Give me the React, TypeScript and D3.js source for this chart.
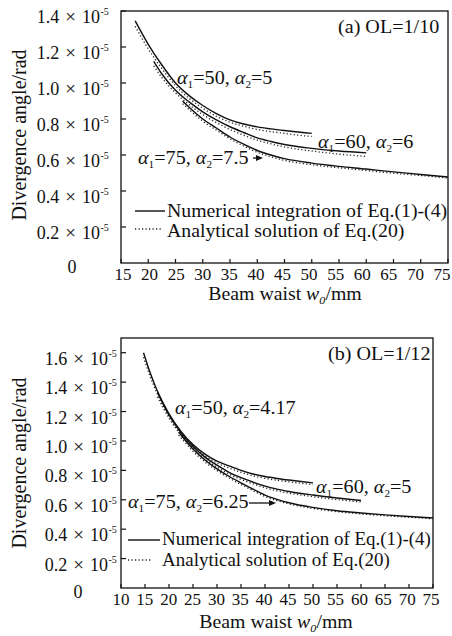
import React from 'react';
import * as d3 from 'd3';

// ---------- Tick values ----------
const xTicksA = [15, 20, 25, 30, 35, 40, 45, 50, 55, 60, 65, 70, 75];
const yTicksA = [0.2, 0.4, 0.6, 0.8, 1.0, 1.2, 1.4];
const xTicksB = [10, 15, 20, 25, 30, 35, 40, 45, 50, 55, 60, 65, 70, 75];
const yTicksB = [0.2, 0.4, 0.6, 0.8, 1.0, 1.2, 1.4, 1.6];

// ---------- Panel (a) OL=1/10 ----------
const wA50 = [17.6, 20, 22.5, 25, 27.5, 30, 32.5, 35, 37.5, 40, 42.5, 45, 47.5, 50];
const numA50 = [1.345, 1.215, 1.1, 1.0, 0.93, 0.875, 0.83, 0.795, 0.772, 0.756, 0.745, 0.736, 0.728, 0.72];
const anaA50 = [1.315, 1.19, 1.08, 0.985, 0.915, 0.86, 0.815, 0.782, 0.76, 0.742, 0.73, 0.72, 0.71, 0.703];

const wA60 = [21, 22.5, 25, 27.5, 30, 32.5, 35, 37.5, 40, 42.5, 45, 50, 55, 60];
const numA60 = [1.12, 1.05, 0.96, 0.895, 0.84, 0.795, 0.757, 0.725, 0.695, 0.675, 0.658, 0.637, 0.622, 0.612];
const anaA60 = [1.095, 1.03, 0.945, 0.88, 0.825, 0.78, 0.742, 0.71, 0.682, 0.662, 0.645, 0.622, 0.605, 0.592];

const wA75 = [26.3, 27.5, 30, 32.5, 35, 37.5, 40, 42.5, 45, 50, 55, 60, 65, 70, 75];
const numA75 = [0.9, 0.865, 0.8, 0.75, 0.7, 0.66, 0.625, 0.6, 0.58, 0.555, 0.537, 0.522, 0.506, 0.492, 0.478];
const anaA75 = [0.885, 0.852, 0.788, 0.738, 0.69, 0.65, 0.615, 0.59, 0.57, 0.546, 0.529, 0.514, 0.499, 0.486, 0.472];

// ---------- Panel (b) OL=1/12 ----------
const wB50 = [14.7, 16, 17.5, 20, 22.5, 25, 27.5, 30, 32.5, 35, 37.5, 40, 42.5, 45, 47.5, 50];
const numB50 = [1.6, 1.47, 1.345, 1.185, 1.065, 0.975, 0.91, 0.862, 0.83, 0.8, 0.775, 0.758, 0.745, 0.734, 0.724, 0.715];
const anaB50 = [1.57, 1.445, 1.325, 1.17, 1.05, 0.962, 0.898, 0.85, 0.816, 0.787, 0.763, 0.746, 0.733, 0.722, 0.712, 0.703];

const wB60 = [17.6, 20, 22.5, 25, 27.5, 30, 32.5, 35, 37.5, 40, 42.5, 45, 50, 55, 60];
const numB60 = [1.33, 1.175, 1.055, 0.962, 0.89, 0.835, 0.787, 0.75, 0.72, 0.693, 0.672, 0.656, 0.632, 0.612, 0.595];
const anaB60 = [1.3, 1.155, 1.04, 0.948, 0.877, 0.822, 0.775, 0.738, 0.708, 0.682, 0.661, 0.645, 0.621, 0.601, 0.585];

const wB75 = [22, 22.5, 25, 27.5, 30, 32.5, 35, 37.5, 40, 42.5, 45, 50, 55, 60, 65, 70, 75];
const numB75 = [1.06, 1.04, 0.945, 0.87, 0.81, 0.76, 0.715, 0.672, 0.632, 0.603, 0.58, 0.548, 0.525, 0.51, 0.497, 0.486, 0.476];
const anaB75 = [1.04, 1.022, 0.93, 0.857, 0.798, 0.748, 0.704, 0.662, 0.622, 0.594, 0.572, 0.541, 0.519, 0.504, 0.491, 0.481, 0.471];

const FONT = '"Liberation Serif", "Times New Roman", serif';
const INK = '#111';

type Frame = { l: number; t: number; r: number; b: number };

function SText(props: {
  x: number;
  y: number;
  k?: number;
  size?: number;
  anchor?: 'start' | 'middle' | 'end';
  children: React.ReactNode;
}) {
  const { x, y, k = 1, size = 18, anchor = 'start' } = props;
  return (
    <text
      transform={`translate(${x},${y}) scale(${k},1)`}
      textAnchor={anchor}
      fontSize={size}
      fontFamily={FONT}
      fill={INK}
    >
      {props.children}
    </text>
  );
}

function Alpha({ x, y, a1, a2, k = 1.12 }: { x: number; y: number; a1: string; a2: string; k?: number }) {
  return (
    <SText x={x} y={y} k={k} size={18}>
      <tspan fontStyle="italic">α</tspan>
      <tspan fontSize={10} dy={4}>1</tspan>
      <tspan dy={-4}>{`=${a1}, `}</tspan>
      <tspan fontStyle="italic">α</tspan>
      <tspan fontSize={10} dy={4}>2</tspan>
      <tspan dy={-4}>{`=${a2}`}</tspan>
    </SText>
  );
}

function Panel(props: {
  frame: Frame;
  xDomain: [number, number];
  yDomain: [number, number];
  xTicks: number[];
  yTicks: number[];
  xLabelRange: [number, number];
  labelRight: number;
  zeroX: number;
  series: { w: number[]; num: number[]; ana: number[] }[];
  title: string;
  titleX: number;
  titleY: number;
  xTitleX: number;
  xTitleY: number;
  yTitleY: number;
  legendK: number;
  legend: { lx0: number; lx1: number; dx1: number; tx: number; y1: number; y2: number; ly1: number; ly2: number };
  children?: React.ReactNode;
}) {
  const { frame: f } = props;
  const x = d3.scaleLinear().domain(props.xDomain).range([f.l, f.r]);
  const y = d3.scaleLinear().domain(props.yDomain).range([f.b, f.t]);
  const xl = d3.scaleLinear().domain(props.xDomain).range(props.xLabelRange);
  const line = d3
    .line<[number, number]>()
    .x((d) => x(d[0]))
    .y((d) => y(d[1]))
    .curve(d3.curveMonotoneX);
  const R = props.labelRight;
  const lg = props.legend;
  return (
    <g>
      <rect x={f.l} y={f.t} width={f.r - f.l} height={f.b - f.t} fill="none" stroke={INK} strokeWidth={1.3} />
      {props.xTicks.map((t) => (
        <g key={'x' + t}>
          <line x1={x(t)} x2={x(t)} y1={f.b} y2={f.b - 4} stroke={INK} strokeWidth={1.2} />
          <text x={xl(t)} y={f.b + 17} textAnchor="middle" fontSize={17} fontFamily={FONT} fill={INK}>
            {t}
          </text>
        </g>
      ))}
      {props.yTicks.map((t) => (
        <g key={'y' + t}>
          <line x1={f.l} x2={f.l + 5} y1={y(t)} y2={y(t)} stroke={INK} strokeWidth={1.2} />
          <text x={R} y={y(t) + 12} textAnchor="end" fontSize={18} fontFamily={FONT} fill={INK}>
            {t.toFixed(1)}
            <tspan dx={6} fontSize={19}>×</tspan>
            <tspan dx={6}>10</tspan>
          </text>
          <text x={R + 0.5} y={y(t) + 4} fontSize={10} fontFamily={FONT} fill={INK}>
            -5
          </text>
        </g>
      ))}
      <text x={props.zeroX} y={y(0) + 10} textAnchor="middle" fontSize={18} fontFamily={FONT} fill={INK}>
        0
      </text>
      {props.series.map((s, i) => {
        const numPts = s.w.map((w, j) => [w, s.num[j]] as [number, number]);
        const anaPts = s.w.map((w, j) => [w, s.ana[j]] as [number, number]);
        return (
          <g key={'s' + i}>
            <path d={line(anaPts) || ''} fill="none" stroke="#222" strokeWidth={1.3} strokeDasharray="1.2 2.3" />
            <path d={line(numPts) || ''} fill="none" stroke={INK} strokeWidth={1.4} />
          </g>
        );
      })}
      <SText x={props.titleX} y={props.titleY} k={1.06} size={19}>
        {props.title}
      </SText>
      {/* legend */}
      <line x1={lg.lx0} x2={lg.lx1} y1={lg.ly1} y2={lg.ly1} stroke={INK} strokeWidth={1.4} />
      <line x1={lg.lx0} x2={lg.dx1} y1={lg.ly2} y2={lg.ly2} stroke="#222" strokeWidth={1.3} strokeDasharray="1.2 2.3" />
      <SText x={lg.tx} y={lg.y1} k={props.legendK} size={18}>
        Numerical integration of Eq.(1)-(4)
      </SText>
      <SText x={lg.tx} y={lg.y2} k={props.legendK} size={18}>
        Analytical solution of Eq.(20)
      </SText>
      {/* axis titles */}
      <SText x={props.xTitleX} y={props.xTitleY} k={1.1} size={18} anchor="middle">
        Beam waist <tspan fontStyle="italic">w</tspan>
        <tspan fontSize={11} dy={4} fontStyle="italic">0</tspan>
        <tspan dy={-4}>/mm</tspan>
      </SText>
      <text
        transform={`translate(26, ${props.yTitleY}) rotate(-90)`}
        textAnchor="middle"
        fontSize={20}
        fontFamily={FONT}
        fill={INK}
      >
        Divergence angle/rad
      </text>
      {props.children}
    </g>
  );
}

function Arrow({ x1, x2, y }: { x1: number; x2: number; y: number }) {
  return (
    <g>
      <line x1={x1} x2={x2 - 5} y1={y} y2={y} stroke={INK} strokeWidth={1.3} />
      <path d={`M${x2},${y} L${x2 - 7},${y - 3} L${x2 - 7},${y + 3} Z`} fill={INK} />
    </g>
  );
}

export default function App() {
  return (
    <svg
      width={452}
      height={636}
      viewBox="0 0 452 636"
      style={{ position: 'absolute', left: 0, top: 0, background: '#fff' }}
    >
      <rect width={452} height={636} fill="#fff" />
      <Panel
        frame={{ l: 121, t: 11, r: 448, b: 263 }}
        xDomain={[15, 75]}
        yDomain={[0, 1.4]}
        xTicks={xTicksA}
        yTicks={yTicksA}
        xLabelRange={[123, 442]}
        labelRight={100}
        zeroX={72}
        series={[
          { w: wA50, num: numA50, ana: anaA50 },
          { w: wA60, num: numA60, ana: anaA60 },
          { w: wA75, num: numA75, ana: anaA75 },
        ]}
        title="(a) OL=1/10"
        titleX={338}
        titleY={33}
        xTitleX={285}
        xTitleY={300}
        yTitleY={135}
        legendK={1.1}
        legend={{ lx0: 135, lx1: 165, dx1: 163, tx: 167, y1: 217, y2: 237, ly1: 211, ly2: 229 }}
      >
        <Alpha x={177} y={84} a1="50" a2="5" />
        <Alpha x={318} y={148} a1="60" a2="6" />
        <Alpha x={138} y={164} a1="75" a2="7.5" />
        <Arrow x1={253} x2={263} y={158} />
      </Panel>
      <Panel
        frame={{ l: 121, t: 338, r: 433, b: 588 }}
        xDomain={[10, 75]}
        yDomain={[0, 1.7]}
        xTicks={xTicksB}
        yTicks={yTicksB}
        xLabelRange={[121, 431]}
        labelRight={108}
        zeroX={78}
        series={[
          { w: wB50, num: numB50, ana: anaB50 },
          { w: wB60, num: numB60, ana: anaB60 },
          { w: wB75, num: numB75, ana: anaB75 },
        ]}
        title="(b) OL=1/12"
        titleX={328}
        titleY={360}
        xTitleX={276}
        xTitleY={628}
        yTitleY={463}
        legendK={1.055}
        legend={{ lx0: 128, lx1: 160, dx1: 152, tx: 162, y1: 545, y2: 566, ly1: 540, ly2: 560 }}
      >
        <Alpha x={175} y={414} a1="50" a2="4.17" />
        <Alpha x={316} y={493} a1="60" a2="5" />
        <Alpha x={128} y={508} a1="75" a2="6.25" />
        <Arrow x1={249} x2={276} y={503} />
      </Panel>
    </svg>
  );
}
